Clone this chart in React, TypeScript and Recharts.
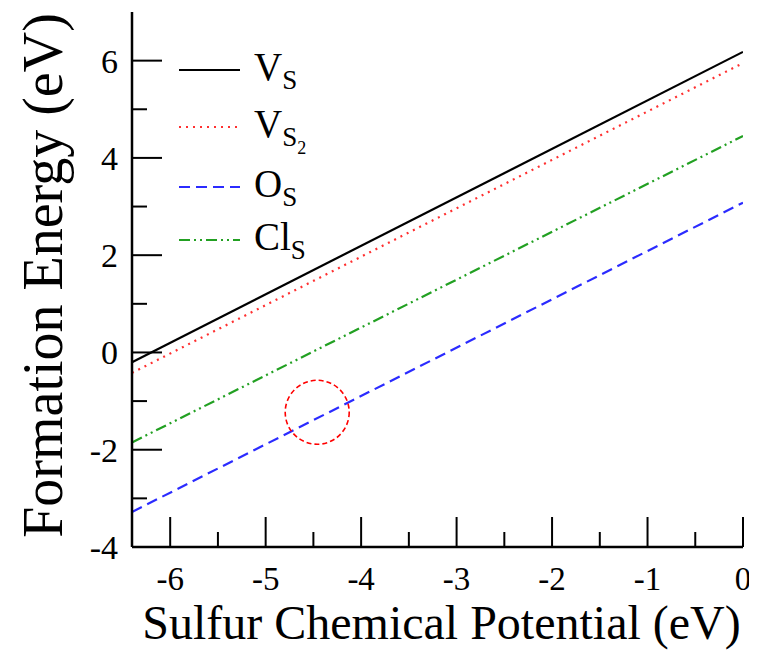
import React from 'react';
import { LineChart, Line, XAxis, YAxis, ReferenceDot, Legend } from 'recharts';

// ---- data ----
const mu = [-6.4, 0];
const vS = [-0.2, 6.18];
const vS2 = [-0.42, 5.95];
const oS = [-3.28, 3.08];
const clS = [-1.85, 4.45];

const xMajorTicks = [-6, -5, -4, -3, -2, -1, 0];
const xMinorTicks = [-5.5, -4.5, -3.5, -2.5, -1.5, -0.5];
const yMajorTicks = [-4, -2, 0, 2, 4, 6];
const yMinorTicks = [-3, -1, 1, 3, 5];

const xTitle = 'Sulfur Chemical Potential (eV)';
const yTitle = 'Formation Energy (eV)';

const circleCenter = { x: -4.46, y: -1.23 };

const data = mu.map((m, i) => ({ mu: m, vS: vS[i], vS2: vS2[i], oS: oS[i], clS: clS[i] }));
const xTicksAll = [...xMajorTicks, ...xMinorTicks].sort((a, b) => a - b);
const yTicksAll = [...yMajorTicks, ...yMinorTicks].sort((a, b) => a - b);

const FONT = '"Liberation Serif", "Times New Roman", Times, serif';
const MAJOR = 30;
const MINOR = 15;
const TICK_W = 2;

const series = [
  { key: 'vS', color: '#000000', dash: undefined as string | undefined, base: 'V', sub: 'S', sub2: '' },
  { key: 'vS2', color: '#ff3030', dash: '2 5', base: 'V', sub: 'S', sub2: '2' },
  { key: 'oS', color: '#2b2bff', dash: '11 6', base: 'O', sub: 'S', sub2: '' },
  { key: 'clS', color: '#22a022', dash: '11 4 2 4 2 4', base: 'Cl', sub: 'S', sub2: '' },
];

const BottomTick = (props: any) => {
  const { x, y, payload } = props;
  const v = payload.value;
  const major = xMajorTicks.includes(v);
  return (
    <g>
      <line x1={x} x2={x} y1={y} y2={y - (major ? MAJOR : MINOR)} stroke="#000" strokeWidth={TICK_W} />
      {major && (
        <text x={x} y={y + 43} textAnchor="middle" fontSize={33} fontFamily={FONT} fill="#000">
          {String(v)}
        </text>
      )}
    </g>
  );
};

const TopTick = (props: any) => {
  const { x, y, payload } = props;
  const major = xMajorTicks.includes(payload.value);
  return <line x1={x} x2={x} y1={y} y2={y + (major ? MAJOR : MINOR)} stroke="#000" strokeWidth={TICK_W} />;
};

const LeftTick = (props: any) => {
  const { x, y, payload } = props;
  const v = payload.value;
  const major = yMajorTicks.includes(v);
  return (
    <g>
      <line x1={x} x2={x + (major ? MAJOR : MINOR)} y1={y} y2={y} stroke="#000" strokeWidth={TICK_W} />
      {major && (
        <text x={x - 14} y={y} dy="0.35em" textAnchor="end" fontSize={34} fontFamily={FONT} fill="#000">
          {String(v)}
        </text>
      )}
    </g>
  );
};

const RightTick = (props: any) => {
  const { x, y, payload } = props;
  const major = yMajorTicks.includes(payload.value);
  return <line x1={x} x2={x - (major ? MAJOR : MINOR)} y1={y} y2={y} stroke="#000" strokeWidth={TICK_W} />;
};

const XTitle = (props: any) => {
  const vb = props.viewBox || {};
  return (
    <text x={vb.x + vb.width / 2 + 4} y={vb.y + 92} textAnchor="middle" fontSize={48} fontFamily={FONT} fill="#000">
      {xTitle}
    </text>
  );
};

const YTitle = (props: any) => {
  const vb = props.viewBox || {};
  const cx = 35;
  const cy = vb.y + vb.height / 2 - 4;
  return (
    <text
      x={cx}
      y={cy}
      transform={`rotate(-90 ${cx} ${cy})`}
      textAnchor="middle"
      dominantBaseline="central"
      fontSize={56}
      fontFamily={FONT}
      fill="#000"
    >
      {yTitle}
    </text>
  );
};

const rowY = [32, 89, 149, 202];

const LegendContent = () => (
  <svg width={200} height={240} style={{ display: 'block' }}>
    {series.map((s, i) => (
      <g key={s.key}>
        <line x1={11} x2={72} y1={rowY[i]} y2={rowY[i]} stroke={s.color} strokeWidth={2.2} strokeDasharray={s.dash} />
        <text x={86} y={rowY[i] + 10} fontSize={39} fontFamily={FONT} fill="#000">
          {s.base}
          <tspan dy={9} fontSize={27}>{s.sub}</tspan>
          {s.sub2 ? <tspan dy={8} fontSize={18}>{s.sub2}</tspan> : null}
        </text>
      </g>
    ))}
  </svg>
);

export default function App() {
  return (
    <div style={{ width: 749, height: 642, position: 'relative' }}>
      <LineChart width={749} height={642} data={data} margin={{ top: 4, right: 14, bottom: 3, left: 0 }}>
        <XAxis
          dataKey="mu"
          type="number"
          domain={[-6.4, 0]}
          allowDataOverflow
          ticks={xTicksAll}
          interval={0}
          tickLine={false}
          tickSize={0}
          tickMargin={0}
          tick={<BottomTick />}
          axisLine={{ stroke: '#000', strokeWidth: 2.5 }}
          height={100}
          label={XTitle}
        />
        <XAxis
          xAxisId="top"
          orientation="top"
          dataKey="mu"
          type="number"
          domain={[-6.4, 0]}
          allowDataOverflow
          ticks={xTicksAll}
          interval={0}
          tickLine={false}
          tickSize={0}
          tickMargin={0}
          tick={<TopTick />}
          axisLine={{ stroke: '#000', strokeWidth: 2.5 }}
          height={0}
        />
        <YAxis
          type="number"
          domain={[-4, 7]}
          allowDataOverflow
          ticks={yTicksAll}
          interval={0}
          tickLine={false}
          tickSize={0}
          tickMargin={0}
          tick={<LeftTick />}
          axisLine={{ stroke: '#000', strokeWidth: 2.5 }}
          width={124}
          label={YTitle}
        />
        <YAxis
          yAxisId="right"
          orientation="right"
          type="number"
          domain={[-4, 7]}
          allowDataOverflow
          ticks={yTicksAll}
          interval={0}
          tickLine={false}
          tickSize={0}
          tickMargin={0}
          tick={<RightTick />}
          axisLine={{ stroke: '#000', strokeWidth: 2.5 }}
          width={0}
        />
        {series.map((s) => (
          <Line
            key={s.key}
            dataKey={s.key}
            type="linear"
            stroke={s.color}
            strokeWidth={2.2}
            strokeDasharray={s.dash}
            dot={false}
            activeDot={false}
            isAnimationActive={false}
          />
        ))}
        <ReferenceDot
          x={circleCenter.x}
          y={circleCenter.y}
          r={32}
          fill="none"
          stroke="#ff0000"
          strokeWidth={1.6}
          strokeDasharray="5 3"
          ifOverflow="visible"
        />
        <Legend
          layout="vertical"
          align="center"
          verticalAlign="middle"
          content={LegendContent}
          wrapperStyle={{ left: 160, top: 30, width: 200, height: 240 }}
        />
      </LineChart>
    </div>
  );
}
